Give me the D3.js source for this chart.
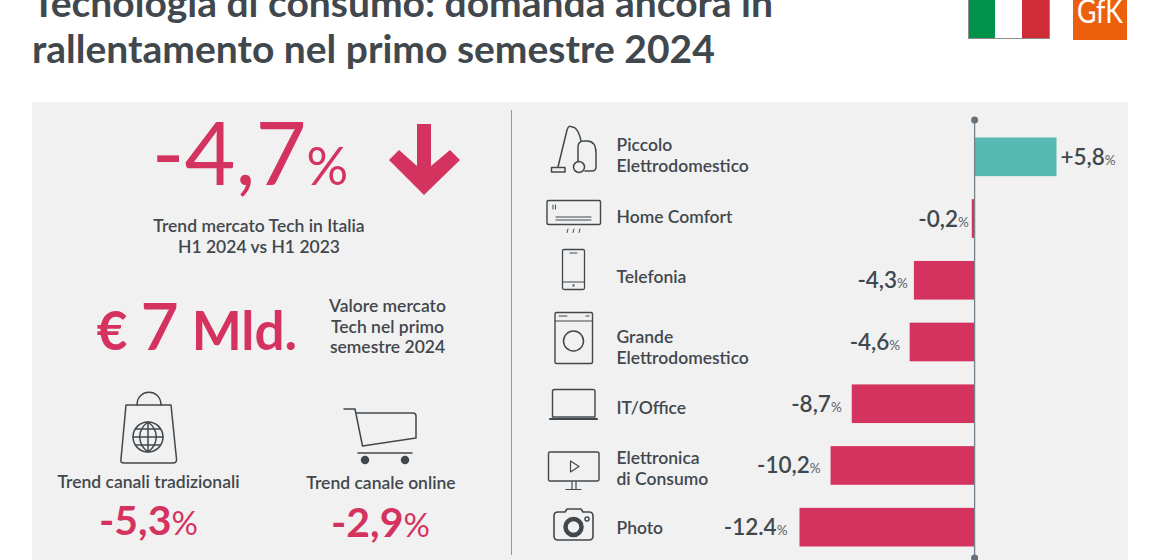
<!DOCTYPE html>
<html>
<head>
<meta charset="utf-8">
<script src="https://cdn.jsdelivr.net/npm/d3@7"></script>
<style>
  html, body { margin: 0; padding: 0; background: #fff; overflow: hidden; }
  svg { display: block; }
  text { font-family: Lato, "Open Sans", sans-serif; }
</style>
</head>
<body>
<svg id="chart" width="1160" height="560"></svg>
<script>
// values
const categories = ['Piccolo Elettrodomestico', 'Home Comfort', 'Telefonia', 'Grande Elettrodomestico', 'IT/Office', 'Elettronica di Consumo', 'Photo'];
const categoryLines = [['Piccolo', 'Elettrodomestico'], ['Home Comfort'], ['Telefonia'], ['Grande', 'Elettrodomestico'], ['IT/Office'], ['Elettronica', 'di Consumo'], ['Photo']];
const values = [5.8, -0.2, -4.3, -4.6, -8.7, -10.2, -12.4];
const valueLabels = ['+5,8', '-0,2', '-4,3', '-4,6', '-8,7', '-10,2', '-12.4'];
const titleLines = ['Tecnologia di consumo: domanda ancora in', 'rallentamento nel primo semestre 2024'];

// label nudges, the source places these by hand
const labelGaps = [4, 3, 6, 9.5, 10, 10, 12];
const categoryBaselines = [151, 223, 283, 343, 414, 464, 533.5];

const dark = '#41484d', pink = '#d43360', teal = '#57b9b2', panel = '#f1f1f1';
const labelWeight = 600;
const svg = d3.select('#chart');

// header
svg.selectAll('.title').data(titleLines).join('text').attr('class', 'title')
  .attr('x', 32).attr('y', (d, i) => 16.5 + i * 46)
  .attr('font-size', 39).attr('font-weight', 700).attr('fill', dark).text(d => d);

// flag and logo
svg.append('rect').attr('x', 968).attr('y', -10).attr('width', 82).attr('height', 49).attr('fill', '#8f8a88');
svg.append('rect').attr('x', 969).attr('y', -10).attr('width', 26).attr('height', 48).attr('fill', '#00924a');
svg.append('rect').attr('x', 995).attr('y', -10).attr('width', 27).attr('height', 48).attr('fill', '#fff');
svg.append('rect').attr('x', 1022).attr('y', -10).attr('width', 27).attr('height', 48).attr('fill', '#ce2c37');
svg.append('rect').attr('x', 1073).attr('y', -10).attr('width', 54).attr('height', 50).attr('fill', '#ec5f0c');
svg.append('text').attr('x', 1077).attr('y', 23).attr('font-size', 33).attr('fill', '#fff')
  .attr('textLength', 46).attr('lengthAdjust', 'spacingAndGlyphs').text('GfK');

// panel
svg.append('rect').attr('x', 32).attr('y', 102).attr('width', 1096).attr('height', 458).attr('fill', panel);
svg.append('line').attr('x1', 511.5).attr('x2', 511.5).attr('y1', 110).attr('y2', 555).attr('stroke', '#9a9a9a');

// left side text
function centered(x, y, lines, step) {
  lines.forEach((l, i) => svg.append('text').attr('x', x).attr('y', y + i * step).attr('text-anchor', 'middle')
    .attr('font-size', 17.5).attr('font-weight', labelWeight).attr('fill', dark).text(l));
}
function stat(x, y, num, size, pct, weight) {
  const t = svg.append('text').attr('x', x).attr('y', y).attr('fill', pink).attr('text-anchor', 'middle');
  t.append('tspan').attr('font-size', size).attr('font-weight', weight).text(num);
  t.append('tspan').attr('font-size', pct).attr('font-weight', 400).text('%');
}
stat(250, 185, '-4,7', 88, 52, 400);
svg.append('path').attr('fill', pink)
  .attr('d', 'M417 124H431V166L450 150L460 160L424 195L389 160L399 150L417 166Z');
centered(259, 231.5, ['Trend mercato Tech in Italia', 'H1 2024 vs H1 2023'], 21);

const euro = svg.append('text').attr('x', 197).attr('y', 350).attr('text-anchor', 'middle').attr('fill', pink).attr('font-weight', 700);
euro.append('tspan').attr('font-size', 53).text('€ ');
euro.append('tspan').attr('font-size', 66).attr('font-weight', 600).text('7');
euro.append('tspan').attr('font-size', 53).text(' Mld.');

centered(387.5, 312, ['Valore mercato', 'Tech nel primo', 'semestre 2024'], 20.5);
centered(148.5, 487.5, ['Trend canali tradizionali'], 0);
centered(381, 489, ['Trend canale online'], 0);
stat(148.5, 535, '-5,3', 41, 33, 700);
stat(380.5, 536.5, '-2,9', 41, 33, 700);

// icon outlines
const line = (d, w) => svg.append('path').attr('d', d).attr('fill', 'none').attr('stroke', dark).attr('stroke-width', w || 1.5)
  .attr('stroke-linejoin', 'round').attr('stroke-linecap', 'round');
const dot = (x, y, r, fill) => svg.append('circle').attr('cx', x).attr('cy', y).attr('r', r)
  .attr('fill', fill ? dark : 'none').attr('stroke', dark).attr('stroke-width', 1.5);

// bag
line('M126 405L121 459Q120 463 124 463H173Q177 463 176.500 459L171 405Z');
line('M137 405C137 388 161 388 161 405');
dot(148, 437, 15); line('M133 437H163M136 429H160M136 445H160');
line('M148 422C137 430 137 444 148 452C159 444 159 430 148 422M148 422V452');
// cart
line('M344 409H355L362.500 446L416 438V416Q416 413 413 413H356');
line('M358 453H412'); dot(365, 460, 3.5, true); dot(405, 460, 3.5, true);
// vacuum
line('M558 167L567 130C569 124 571 127 572 127C577 127 580 135 581 141');
line('M578 162V147Q578 141 584 141H587Q596 141 596 153V167Q596 171 592 171H585');
dot(579, 167, 5.500); line('M551.500 167.500H565V172H551.500Z');
// air conditioner
line('M547 202Q547 200.500 549 200.500H599Q600.500 200.500 600.500 202V223Q600.500 224.500 599 224.500H549Q547 224.500 547 223Z', 1.4);
line('M556 217H591M556 220H591M553 205V209M555.500 205V209', 1);
line('M568 229L567 232.500M574 229L573 232.500M580 229L579 232.500', 1);
// phone
line('M562.500 251Q562.500 249.500 564 249.500H583Q584.500 249.500 584.500 251V288Q584.500 289.500 583 289.500H564Q562.500 289.500 562.500 288Z', 1.3);
line('M562.500 282H584.500M570 253H577', 1); dot(573.500, 285.500, .4);
// washing machine
line('M555 314Q555 312.500 556.500 312.500H591Q592.500 312.500 592.500 314V362Q592.500 363.500 591 363.500H556.500Q555 363.500 555 362Z', 1.4);
line('M555 321H592.500M559 316H567M586 316H589', 1); dot(573.500, 341, 10);
// laptop
line('M552.500 391.500Q552.500 389.500 554.500 389.500H593Q595 389.500 595 391.500V417H552.500Z', 1.4);
line('M550 419H597', 2.2);
// monitor
line('M548.500 453.500Q548.500 452 550 452H597Q599 452 599 453.500V479Q599 481 597 481H550Q548.500 481 548.500 479Z', 1.4);
line('M570.500 461V472L579 466.500Z', 1.2); line('M572 482V489M576 482V489M566 489.500H581', 1.2);
// camera
line('M554 516Q554 512 558 512H565L567 509H581L583 512H589Q593 512 593 516V536Q593 540 589 540H558Q554 540 554 536Z', 1.6);
svg.append('circle').attr('cx', 573.500).attr('cy', 527).attr('r', 8).attr('fill', 'none').attr('stroke', dark).attr('stroke-width', 4.500);
dot(587, 519, 2);

// bars
const x = d3.scaleLinear().domain([-12.4, 5.8]).range([799.5, 1056.5]);
const y = d3.scaleBand().domain(categories).range([137.5, 546.5]).paddingInner(0.374).paddingOuter(0);
const rows = categories.map((c, i) => ({ c, v: values[i], label: valueLabels[i], lines: categoryLines[i], gap: labelGaps[i], base: categoryBaselines[i] }));

svg.selectAll('.bar').data(rows).join('rect').attr('class', 'bar')
  .attr('x', d => Math.min(x(d.v), x(0))).attr('y', d => y(d.c))
  .attr('width', d => Math.abs(x(d.v) - x(0))).attr('height', y.bandwidth())
  .attr('fill', d => d.v >= 0 ? teal : pink);

// zero line with end dots
svg.append('line').attr('x1', x(0)).attr('x2', x(0)).attr('y1', 120).attr('y2', 558).attr('stroke', '#77828a').attr('stroke-width', 1.3);
[120, 558].forEach(cy => svg.append('circle').attr('cx', x(0)).attr('cy', cy).attr('r', 3.5).attr('fill', '#65707a'));

// value labels
const vl = svg.selectAll('.vlabel').data(rows).join('text').attr('class', 'vlabel')
  .attr('x', d => d.v >= 0 ? x(d.v) + d.gap : x(d.v) - d.gap)
  .attr('y', d => y(d.c) + y.bandwidth() / 2 + 8)
  .attr('text-anchor', d => d.v >= 0 ? 'start' : 'end').attr('fill', dark);
vl.append('tspan').attr('font-size', 22.5).attr('font-weight', 600).text(d => d.label);
vl.append('tspan').attr('font-size', 13.5).attr('fill', '#5b6268').text('%');

// category labels
const cl = svg.selectAll('.clabel').data(rows).join('text').attr('class', 'clabel')
  .attr('y', d => d.base)
  .attr('font-size', 17.5).attr('font-weight', labelWeight).attr('fill', dark);
cl.selectAll('tspan').data(d => d.lines).join('tspan').attr('x', 616.5)
  .attr('dy', (d, i) => i ? 21 : 0).text(d => d);
</script>
</body>
</html>
